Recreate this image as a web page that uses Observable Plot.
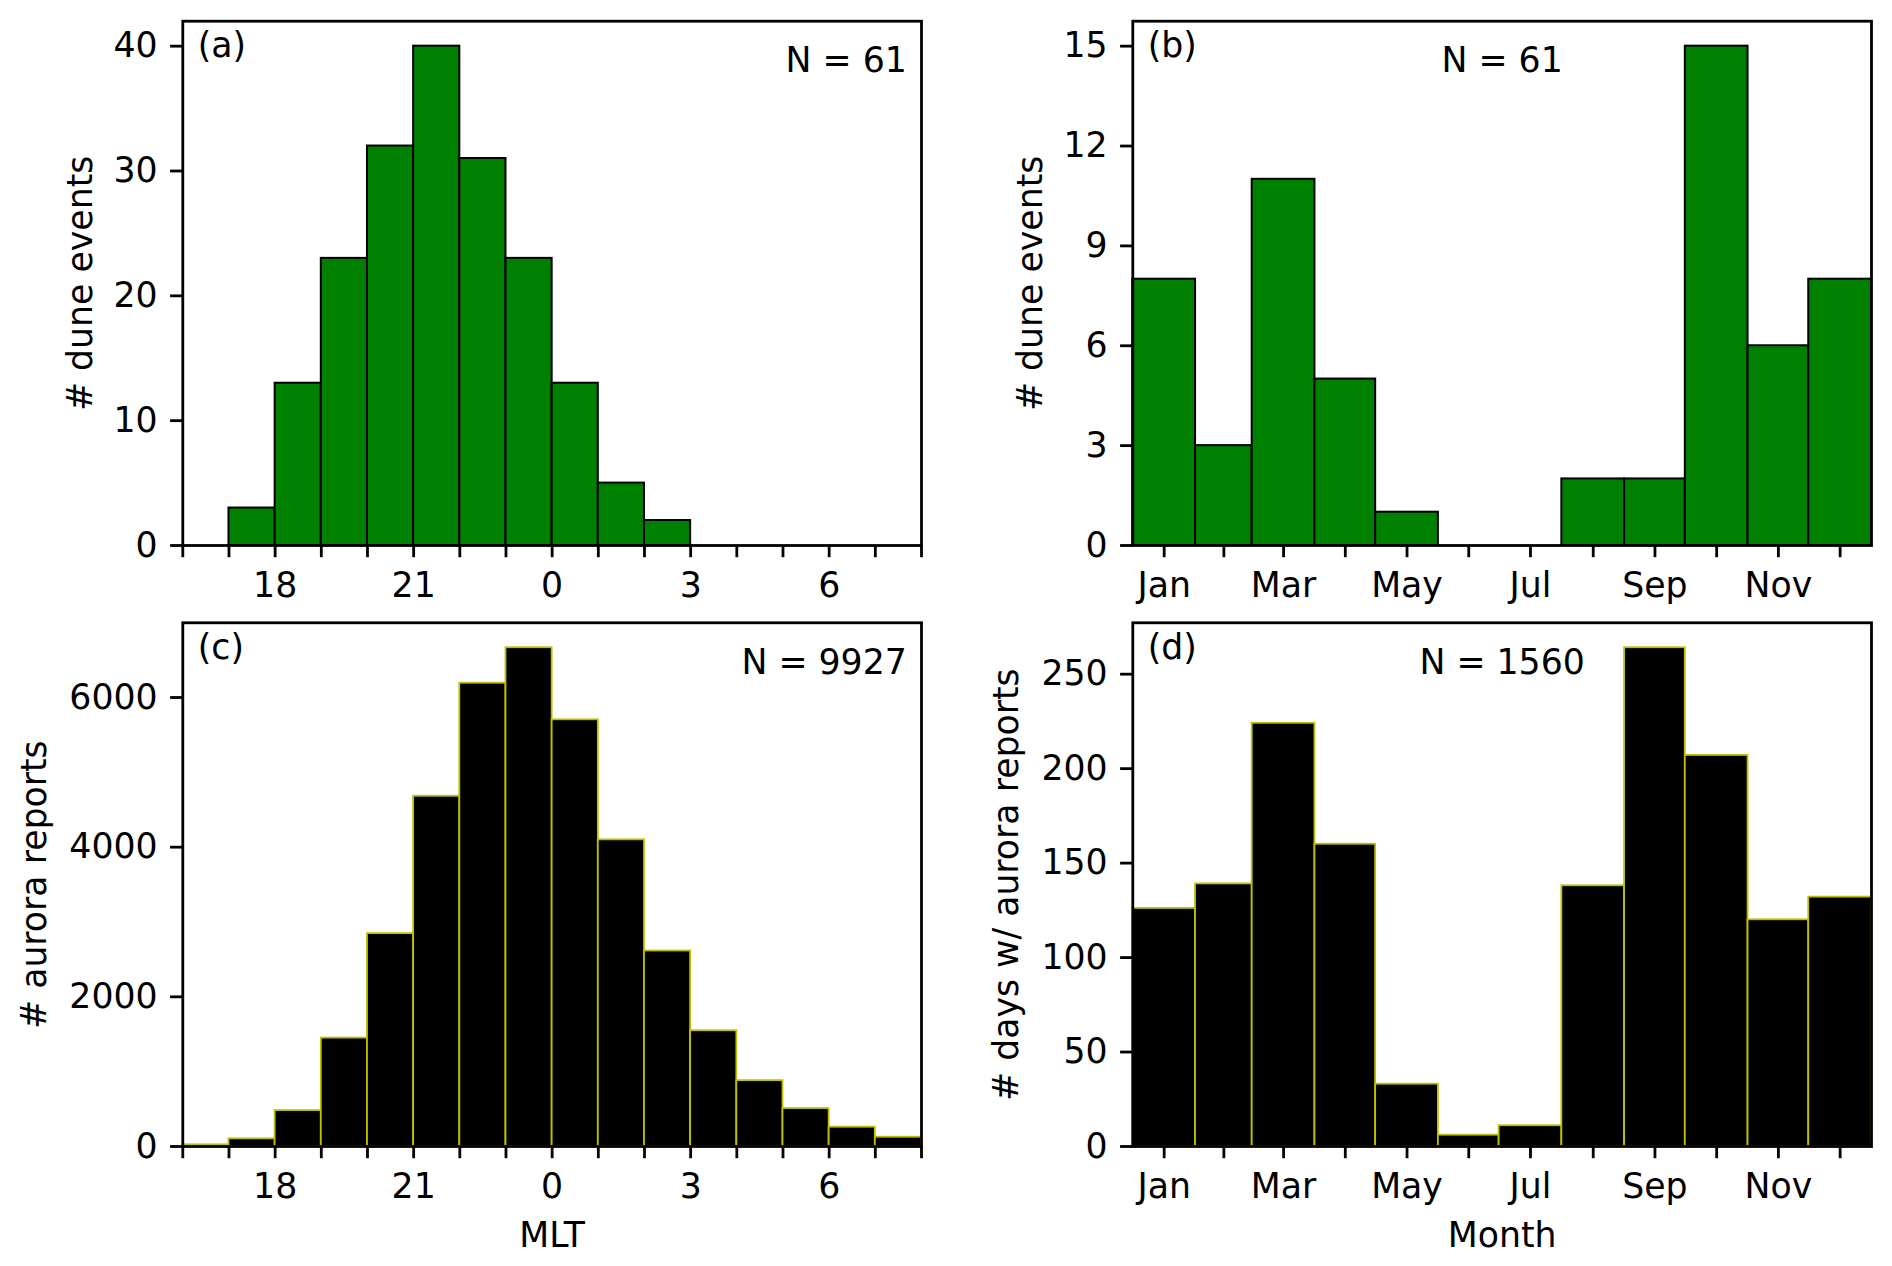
<!DOCTYPE html>
<html>
<head>
<meta charset="utf-8">
<script src="https://cdn.jsdelivr.net/npm/d3@7"></script>
<script src="https://cdn.jsdelivr.net/npm/@observablehq/plot@0.6"></script>
<style>
html, body { margin: 0; padding: 0; background: #ffffff; }
#fig { position: relative; width: 1892px; height: 1266px; background: #ffffff; font-family: "DejaVu Sans"; overflow: hidden; }
.panel { position: absolute; }
.panel svg { display: block; max-width: none !important; }
</style>
</head>
<body>
<div id="fig"></div>
<script>
// ---------------- data ----------------
// (a) dune events per MLT hour (bin start hour, continuous: 24 = 0 MLT)
const duneMltBinStart = [17, 18, 19, 20, 21, 22, 23, 24, 25, 26];
const duneMltCounts   = [3, 13, 23, 32, 40, 31, 23, 13, 5, 2];

// (c) aurora reports per MLT hour
const auroraMltBinStart = [16, 17, 18, 19, 20, 21, 22, 23, 24, 25, 26, 27, 28, 29, 30, 31];
const auroraMltCounts   = [22, 102, 480, 1449, 2844, 4680, 6191, 6665, 5702, 4098, 2613, 1547, 880, 507, 258, 124];

// MLT axis ticks (continuous hours) and labelled ticks
const mltTicks = [16, 17, 18, 19, 20, 21, 22, 23, 24, 25, 26, 27, 28, 29, 30, 31, 32];
const mltLabelledTicks = [18, 21, 24, 27, 30];

// months (day-of-year bin edges)
const monthNames = ["Jan", "Feb", "Mar", "Apr", "May", "Jun", "Jul", "Aug", "Sep", "Oct", "Nov", "Dec"];
const monthEdges = [0, 31, 59, 90, 120, 151, 181, 212, 243, 273, 304, 334, 365];
const monthLabelled = ["Jan", "Mar", "May", "Jul", "Sep", "Nov"];

// (b) dune events per month
const duneMonthCounts = [8, 3, 11, 5, 1, 0, 0, 2, 2, 15, 6, 8];
// (d) days with aurora reports per month
const auroraDayCounts = [126, 139, 224, 160, 33, 6, 11, 138, 264, 207, 120, 132];

// tick values
const yTicksA = [0, 10, 20, 30, 40];
const yTicksB = [0, 3, 6, 9, 12, 15];
const yTicksC = [0, 2000, 4000, 6000];
const yTicksD = [0, 50, 100, 150, 200, 250];

// annotations
const labelsPanel = ["(a)", "(b)", "(c)", "(d)"];
const nTexts = ["N = 61", "N = 61", "N = 9927", "N = 1560"];
const yLabels = ["# dune events", "# dune events", "# aurora reports", "# days w/ aurora reports"];
const xLabels = ["MLT", "Month"];

// ---------------- styling ----------------
const FS = 34.7;
const GREEN = "#008000";
const YELLOW = "#bfbf00";
const TICK = 12.2;
const LW = 2.8;

const mltTable = (starts, counts) => starts.map((s, i) => ({x1: s, x2: s + 1, y: counts[i]}));
const monthTable = (counts) => counts.map((c, i) => ({x1: monthEdges[i], x2: monthEdges[i + 1], y: c}));
const monthMid = monthEdges.slice(0, 12).map((e, i) => (e + monthEdges[i + 1]) / 2);

function panel({left, top, width, height, mTop, mBottom, mLeft, mRight,
                xDomain, yDomain, bars, fill, stroke, strokeW,
                xTicks, xFormat, yTicks, tag, nText, nCentered, yLabel, yLabelDx, xLabel}) {
  const marks = [
    Plot.rectY(bars, {x1: "x1", x2: "x2", y: "y", fill, stroke, strokeWidth: strokeW}),
    Plot.axisX({ticks: xTicks, tickFormat: xFormat, tickSize: TICK, tickPadding: 14.5,
                strokeWidth: LW, fontSize: FS, label: null}),
    Plot.axisY({ticks: yTicks, tickFormat: d => String(d), tickSize: TICK, tickPadding: 13,
                strokeWidth: LW, fontSize: FS, label: null}),
    Plot.frame({stroke: "black", strokeWidth: LW}),
    Plot.text([tag], {text: d => d, frameAnchor: "top-left", dx: 15, dy: 11.5,
                      textAnchor: "start", lineAnchor: "top", fontSize: FS, fill: "black"}),
    nCentered
      ? Plot.text([nText], {text: d => d, frameAnchor: "top", dy: 26.5,
                            textAnchor: "middle", lineAnchor: "top", fontSize: FS, fill: "black"})
      : Plot.text([nText], {text: d => d, frameAnchor: "top-right", dx: -14.7, dy: 26.5,
                            textAnchor: "end", lineAnchor: "top", fontSize: FS, fill: "black"}),
    Plot.text([yLabel], {text: d => d, frameAnchor: "left", dx: yLabelDx, rotate: -90,
                         textAnchor: "middle", lineAnchor: "bottom", fontSize: FS, fill: "black"})
  ];
  if (xLabel) {
    marks.push(Plot.text([xLabel], {text: d => d, frameAnchor: "bottom", dy: 76,
                                    textAnchor: "middle", lineAnchor: "top", fontSize: FS, fill: "black"}));
  }
  const chart = Plot.plot({
    width, height,
    marginTop: mTop, marginBottom: mBottom, marginLeft: mLeft, marginRight: mRight,
    x: {type: "linear", domain: xDomain},
    y: {type: "linear", domain: yDomain},
    style: {fontFamily: "DejaVu Sans", fontSize: FS + "px", color: "black", background: "white"},
    marks
  });
  const div = document.createElement("div");
  div.className = "panel";
  div.style.left = left + "px";
  div.style.top = top + "px";
  div.style.width = width + "px";
  div.style.height = height + "px";
  div.appendChild(chart);
  document.getElementById("fig").appendChild(div);
}

const mltFormat = h => mltLabelledTicks.includes(h) ? String(h % 24) : "";
const monthFormat = d => {
  const i = monthMid.indexOf(d);
  const name = monthNames[i];
  return monthLabelled.includes(name) ? name : "";
};

const maxA = d3.max(duneMltCounts), maxB = d3.max(duneMonthCounts);
const maxC = d3.max(auroraMltCounts), maxD = d3.max(auroraDayCounts);

// (a)
panel({left: 0, top: 0, width: 946, height: 610, mTop: 20.7, mBottom: 65, mLeft: 182.3, mRight: 25,
  xDomain: [16, 32], yDomain: [0, maxA * 1.05],
  bars: mltTable(duneMltBinStart, duneMltCounts), fill: GREEN, stroke: "black", strokeW: 2,
  xTicks: mltTicks, xFormat: mltFormat, yTicks: yTicksA,
  tag: labelsPanel[0], nText: nTexts[0], nCentered: false,
  yLabel: yLabels[0], yLabelDx: -91.3, xLabel: null});

// (b)
panel({left: 946, top: 0, width: 946, height: 610, mTop: 20.7, mBottom: 65, mLeft: 186.3, mRight: 21,
  xDomain: [0, 365], yDomain: [0, maxB * 1.05],
  bars: monthTable(duneMonthCounts), fill: GREEN, stroke: "black", strokeW: 2,
  xTicks: monthMid, xFormat: monthFormat, yTicks: yTicksB,
  tag: labelsPanel[1], nText: nTexts[1], nCentered: true,
  yLabel: yLabels[1], yLabelDx: -91.3, xLabel: null});

// (c)
panel({left: 0, top: 610, width: 946, height: 656, mTop: 12.3, mBottom: 120, mLeft: 182.3, mRight: 25,
  xDomain: [16, 32], yDomain: [0, maxC * 1.05],
  bars: mltTable(auroraMltBinStart, auroraMltCounts), fill: "black", stroke: YELLOW, strokeW: 1.8,
  xTicks: mltTicks, xFormat: mltFormat, yTicks: yTicksC,
  tag: labelsPanel[2], nText: nTexts[2], nCentered: false,
  yLabel: yLabels[2], yLabelDx: -137.3, xLabel: xLabels[0]});

// (d)
panel({left: 946, top: 610, width: 946, height: 656, mTop: 12.3, mBottom: 120, mLeft: 186.3, mRight: 21,
  xDomain: [0, 365], yDomain: [0, maxD * 1.05],
  bars: monthTable(auroraDayCounts), fill: "black", stroke: YELLOW, strokeW: 1.8,
  xTicks: monthMid, xFormat: monthFormat, yTicks: yTicksD,
  tag: labelsPanel[3], nText: nTexts[3], nCentered: true,
  yLabel: yLabels[3], yLabelDx: -115.3, xLabel: xLabels[1]});
</script>
</body>
</html>
